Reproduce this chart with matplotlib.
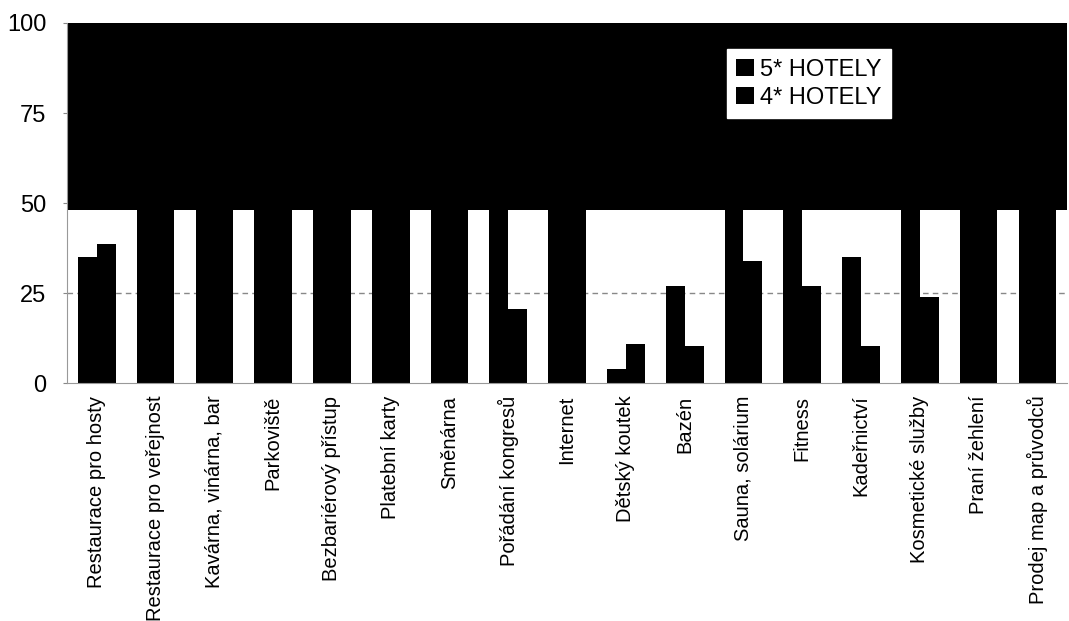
import numpy as np
import matplotlib
matplotlib.use("Agg")
import matplotlib.pyplot as plt

plt.rcParams['font.family'] = ['Liberation Sans', 'DejaVu Sans']

categories = [
    "Restaurace pro hosty", "Restaurace pro veřejnost", "Kavárna, vinárna, bar",
    "Parkoviště", "Bezbariérový přístup", "Platební karty", "Směnárna",
    "Pořádání kongresů", "Internet", "Dětský koutek", "Bazén",
    "Sauna, solárium", "Fitness", "Kadeřnictví", "Kosmetické služby",
    "Praní žehlení", "Prodej map a průvodců",
]
hotels_5 = [35, 100, 100, 100, 100, 100, 100, 100, 100, 4, 27, 100, 100, 35, 100, 100, 100]
hotels_4 = [38.5, 100, 100, 100, 100, 100, 100, 20.5, 100, 11, 10.3, 34, 27, 10.3, 24, 100, 100]
yticks = [0, 25, 50, 75, 100]

fig = plt.figure(figsize=(10.69, 6.21), dpi=100)
ax = fig.add_axes([0.063, 0.383, 0.935, 0.58])

x = np.arange(len(categories))
w = 0.32
# upper half of the plot area is printed solid black
ax.axhspan(48, 100, color='black', zorder=0, lw=0)
ax.axhline(25, color='#888888', lw=1, ls=(0, (4, 3)), zorder=1)
ax.bar(x - w / 2, hotels_5, w, color='black', label='5* HOTELY', zorder=2)
ax.bar(x + w / 2, hotels_4, w, color='black', label='4* HOTELY', zorder=2)

ax.set_xlim(-0.5, len(categories) - 0.5)
ax.set_ylim(0, 100)
ax.set_yticks(yticks)
ax.set_yticklabels([str(v) for v in yticks], fontsize=17)
ax.set_xticks(x)
ax.set_xticklabels(categories, rotation=90, fontsize=14.5)
ax.tick_params(axis='x', length=0, pad=9)
ax.tick_params(axis='y', length=3, color='#888888', pad=12)

for s in ['top', 'right']:
    ax.spines[s].set_visible(False)
for s in ['left', 'bottom']:
    ax.spines[s].set_color('#999999')
    ax.spines[s].set_linewidth(0.8)

leg = ax.legend(loc='upper left', bbox_to_anchor=(0.648, 0.96), fontsize=17,
                frameon=True, fancybox=False, handlelength=0.75, handleheight=0.75,
                handletextpad=0.25, borderpad=0.4, labelspacing=0.25)
leg.get_frame().set_facecolor('white')
leg.get_frame().set_edgecolor('white')
leg.get_frame().set_alpha(1)

fig.savefig('out.png', dpi=100)
